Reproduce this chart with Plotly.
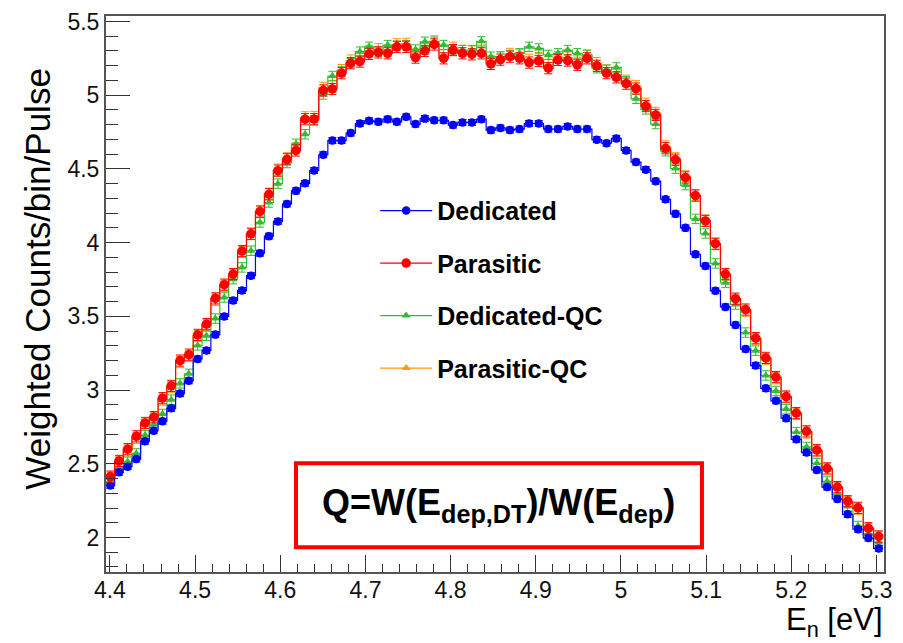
import numpy as np
import plotly.graph_objects as go

# ---- binning: log bins, 1000 bins per decade, from 10^0.643 to 10^0.725 (82 bins)
log_lo, n_bins, bins_per_decade = 0.643, 82, 1000
edges = 10 ** (log_lo + np.arange(n_bins + 1) / bins_per_decade)
centers = 0.5 * (edges[:-1] + edges[1:])

dedicated = [2.353, 2.442, 2.480, 2.532, 2.653, 2.724, 2.789, 2.876, 2.976, 3.063,
             3.211, 3.269, 3.376, 3.499, 3.608, 3.675, 3.776, 3.928, 4.044, 4.144,
             4.262, 4.351, 4.402, 4.489, 4.596, 4.692, 4.692, 4.743, 4.808, 4.826,
             4.819, 4.837, 4.819, 4.853, 4.804, 4.841, 4.830, 4.830, 4.797, 4.815,
             4.815, 4.837, 4.763, 4.778, 4.763, 4.770, 4.808, 4.808, 4.770, 4.770,
             4.788, 4.770, 4.770, 4.698, 4.674, 4.707, 4.625, 4.546, 4.495, 4.417,
             4.294, 4.195, 4.100, 3.921, 3.841, 3.673, 3.564, 3.441, 3.278, 3.166,
             3.012, 2.927, 2.809, 2.666, 2.576, 2.458, 2.342, 2.261, 2.157, 2.056,
             1.996, 1.926]

parasitic = [2.413, 2.519, 2.599, 2.686, 2.777, 2.816, 2.945, 3.028, 3.200, 3.240,
             3.374, 3.447, 3.622, 3.715, 3.787, 3.943, 4.060, 4.211, 4.328, 4.488,
             4.565, 4.625, 4.837, 4.837, 5.032, 5.042, 5.149, 5.217, 5.228, 5.280,
             5.290, 5.284, 5.328, 5.328, 5.255, 5.300, 5.344, 5.250, 5.306, 5.284,
             5.277, 5.284, 5.212, 5.241, 5.261, 5.250, 5.221, 5.232, 5.183, 5.239,
             5.235, 5.206, 5.250, 5.199, 5.149, 5.121, 5.078, 5.045, 4.926, 4.866,
             4.640, 4.562, 4.442, 4.319, 4.147, 3.993, 3.787, 3.620, 3.546, 3.352,
             3.218, 3.088, 2.956, 2.844, 2.720, 2.592, 2.469, 2.342, 2.246, 2.201,
             2.063, 2.007]

dedicated_qc = [2.391, 2.480, 2.514, 2.570, 2.693, 2.764, 2.838, 2.935, 3.045, 3.110,
                3.303, 3.368, 3.485, 3.628, 3.752, 3.832, 3.945, 4.137, 4.272, 4.400,
                4.540, 4.670, 4.735, 4.830, 5.005, 5.130, 5.161, 5.217, 5.295, 5.328,
                5.295, 5.340, 5.334, 5.340, 5.310, 5.362, 5.362, 5.340, 5.306, 5.306,
                5.306, 5.365, 5.261, 5.261, 5.273, 5.284, 5.328, 5.317, 5.273, 5.284,
                5.306, 5.284, 5.273, 5.183, 5.172, 5.188, 5.094, 4.975, 4.904, 4.804,
                4.620, 4.502, 4.390, 4.161, 4.062, 3.859, 3.727, 3.580, 3.390, 3.267,
                3.099, 2.994, 2.871, 2.715, 2.614, 2.503, 2.380, 2.291, 2.212, 2.078,
                2.023, 1.966]

parasitic_qc = [2.405, 2.510, 2.590, 2.675, 2.765, 2.808, 2.935, 3.020, 3.190, 3.232,
                3.366, 3.440, 3.612, 3.708, 3.782, 3.936, 4.058, 4.210, 4.332, 4.495,
                4.572, 4.640, 4.850, 4.852, 5.050, 5.060, 5.170, 5.235, 5.250, 5.300,
                5.312, 5.300, 5.345, 5.348, 5.275, 5.318, 5.365, 5.272, 5.322, 5.300,
                5.296, 5.302, 5.232, 5.258, 5.280, 5.270, 5.240, 5.252, 5.205, 5.258,
                5.255, 5.228, 5.268, 5.218, 5.168, 5.140, 5.098, 5.062, 4.942, 4.880,
                4.652, 4.572, 4.450, 4.322, 4.150, 3.990, 3.782, 3.612, 3.538, 3.345,
                3.210, 3.080, 2.950, 2.838, 2.712, 2.585, 2.462, 2.336, 2.240, 2.195,
                2.058, 2.002]

errors = {"Dedicated": 0.02, "Parasitic": 0.038, "Dedicated-QC": 0.032, "Parasitic-QC": 0.038}

x_ticks = [4.4, 4.5, 4.6, 4.7, 4.8, 4.9, 5.0, 5.1, 5.2, 5.3]
x_ticktext = ["4.4", "4.5", "4.6", "4.7", "4.8", "4.9", "5", "5.1", "5.2", "5.3"]
y_ticks = [2.0, 2.5, 3.0, 3.5, 4.0, 4.5, 5.0, 5.5]
y_ticktext = ["2", "2.5", "3", "3.5", "4", "4.5", "5", "5.5"]

# draw order: orange, green, blue, red ; legend order via legendrank
series = [
    ("Parasitic-QC", parasitic_qc, "#ff9900", "triangle-up", 8, 4),
    ("Dedicated-QC", dedicated_qc, "#33bb33", "triangle-up", 8, 3),
    ("Dedicated", dedicated, "#0000ff", "circle", 8.5, 1),
    ("Parasitic", parasitic, "#ff0000", "circle", 9.5, 2),
]

fig = go.Figure()
for name, vals, col, sym, msize, rank in series:
    fig.add_trace(go.Scatter(
        x=centers, y=vals, name=name, mode="lines+markers",
        line=dict(color=col, width=1.2, shape="hvh"),
        marker=dict(color=col, symbol=sym, size=msize, line=dict(width=0)),
        error_y=dict(type="constant", value=errors[name], color=col, thickness=1, width=4),
        legendgroup=name, legendrank=rank,
    ))

font_family = "Liberation Sans, Arial, Helvetica, sans-serif"
axis_common = dict(
    showline=True, linecolor="#555555", linewidth=2, mirror=True,
    ticks="inside", tickcolor="#333333", tickwidth=1,
    showgrid=False, zeroline=False,
    tickfont=dict(family=font_family, size=23, color="#111111"),
)

fig.update_xaxes(
    range=[edges[0], edges[-1]], tickvals=x_ticks, ticktext=x_ticktext,
    ticklen=17, ticklabelstandoff=-4,
    minor=dict(dtick=0.02, tick0=4.4, ticks="inside", ticklen=8, tickcolor="#333333", tickwidth=1),
    **axis_common,
)
fig.update_yaxes(
    range=[1.766, 5.537], tickvals=y_ticks, ticktext=y_ticktext,
    ticklen=24,
    minor=dict(dtick=0.1, tick0=2.0, ticks="inside", ticklen=12, tickcolor="#333333", tickwidth=1),
    **axis_common,
)

fig.update_layout(
    width=903, height=643,
    margin=dict(l=106, r=19, t=9, b=71),
    paper_bgcolor="white", plot_bgcolor="white",
    font=dict(family=font_family, color="black"),
    showlegend=True,
    legend=dict(
        x=0.346, y=0.691, xanchor="left", yanchor="top",
        bgcolor="rgba(0,0,0,0)", borderwidth=0,
        font=dict(family=font_family, size=25, color="black", weight="bold"),
        tracegroupgap=17, itemwidth=52, traceorder="grouped",
    ),
    shapes=[dict(type="rect", xref="paper", yref="paper",
                 x0=0.2442, x1=0.766, y0=0.0444, y1=0.1954,
                 line=dict(color="#ff0000", width=4), fillcolor="white", layer="above")],
    annotations=[
        dict(text="<b>Q=W(E<sub>dep,DT</sub>)/W(E<sub>dep</sub>)</b>",
             xref="paper", yref="paper", x=0.505, y=0.12,
             xanchor="center", yanchor="middle", showarrow=False,
             font=dict(family=font_family, size=36, color="black")),
        dict(text="Weighted Counts/bin/Pulse", textangle=-90,
             xref="paper", yref="paper", x=(38 - 106) / 778, y=0.5275,
             xanchor="center", yanchor="middle", showarrow=False,
             font=dict(family=font_family, size=35, color="black")),
        dict(text="E<sub>n</sub> [eV]",
             xref="paper", yref="paper", x=(885 - 106) / 778, y=-0.051,
             xanchor="right", yanchor="top", showarrow=False,
             font=dict(family=font_family, size=31, color="black")),
    ],
)

fig.write_html("out.html")
